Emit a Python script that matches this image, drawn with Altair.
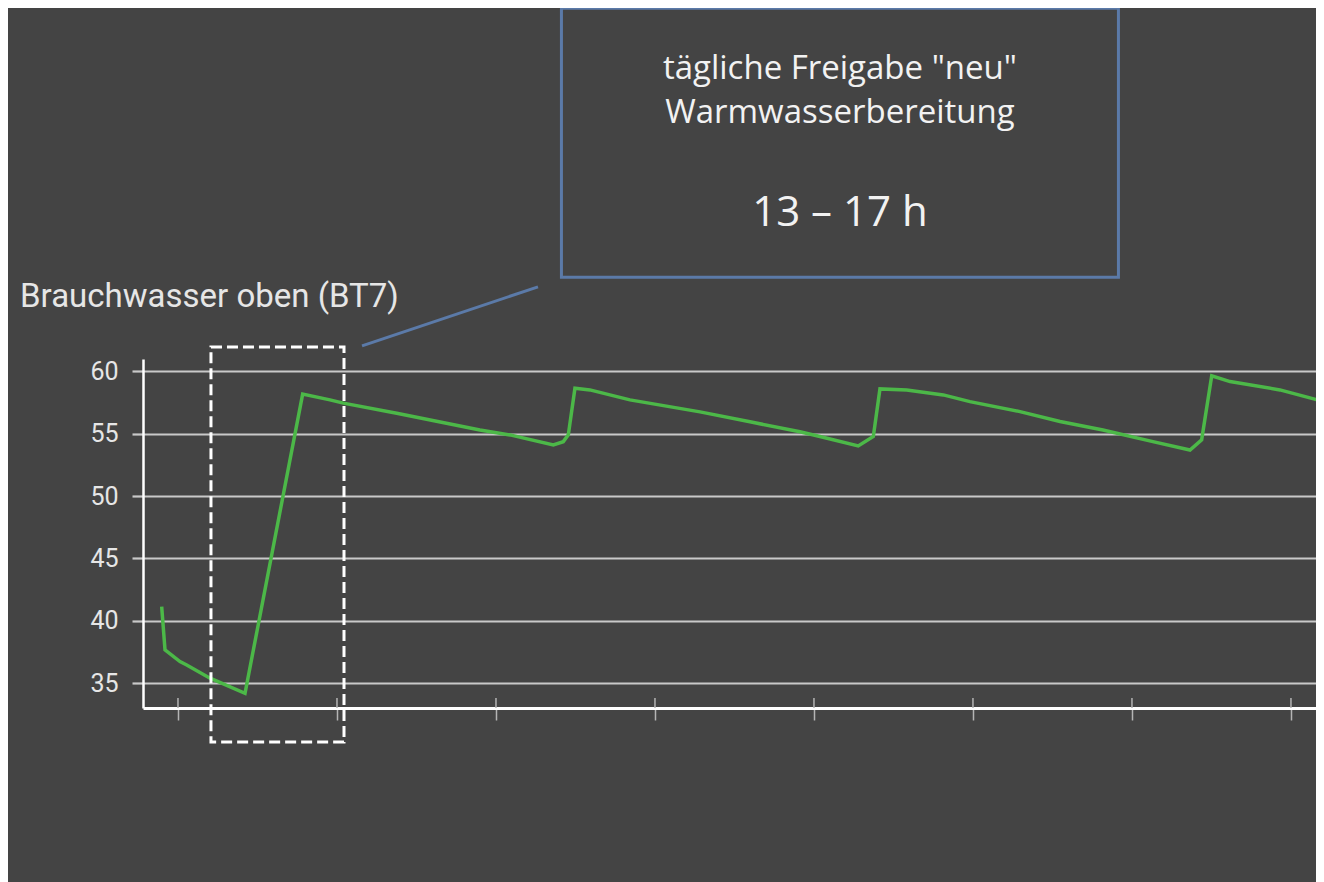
import altair as alt
import pandas as pd

# --- data: hours (x) and temperature in °C (y) ---
hours = [-1.23, -0.98, 0.15, 0.66, 2.42, 5.06, 9.41, 11.47, 12.48, 16.51,
         22.79, 25.06, 28.33, 29.08, 29.46, 29.96, 31.09, 34.11, 39.40, 43.17,
         46.94, 48.45, 51.34, 52.48, 52.98, 55.00, 57.76, 59.77, 63.55, 66.57,
         69.81, 73.58, 76.38, 77.26, 78.02, 79.40, 83.17, 86.49]
temps = [41.13, 37.66, 36.72, 36.45, 35.39, 34.18, 58.18, 57.72, 57.46, 56.65,
         55.31, 54.91, 54.11, 54.37, 54.91, 58.66, 58.52, 57.72, 56.76, 55.96,
         55.16, 54.78, 54.03, 54.78, 58.60, 58.52, 58.12, 57.58, 56.78, 55.98,
         55.31, 54.37, 53.70, 54.51, 59.65, 59.19, 58.52, 57.58]
x_ticks = [0, 12, 24, 36, 48, 60, 72, 84]
y_ticks = [35, 40, 45, 50, 55, 60]

chart_title = "Brauchwasser oben (BT7)"
note_lines = ['tägliche Freigabe "neu"', "Warmwasserbereitung"]
note_time = "13 – 17 h"

X_DOMAIN = [-2.64, 85.89]
Y_DOMAIN = [33, 61]

BG = "#444444"
GREEN = "#4cb848"
BLUE = "#5b7aa8"
GRID = "#c9c9c9"

df = pd.DataFrame({"h": hours, "t": temps})
ticks_df = pd.DataFrame({"h": x_ticks})

xs = alt.Scale(domain=X_DOMAIN, nice=False, zero=False)
ys = alt.Scale(domain=Y_DOMAIN, nice=False, zero=False)

line = alt.Chart(df).mark_line(color=GREEN, strokeWidth=3.5, clip=True).encode(
    x=alt.X("h:Q", scale=xs, title=None,
            axis=alt.Axis(values=x_ticks, labels=False, grid=False,
                          domainColor="white", domainWidth=3,
                          tickColor="#b4b4b4", tickWidth=1.5, tickSize=12)),
    y=alt.Y("t:Q", scale=ys, title=None,
            axis=alt.Axis(values=y_ticks, grid=True, gridColor=GRID, gridWidth=2.2,
                          domainColor="white", domainWidth=2.5,
                          tickColor=GRID, tickWidth=2.2, tickSize=11,
                          labelFont="Roboto", labelFontSize=25,
                          labelColor="#e6e6e6", labelPadding=14)),
)

# upper half of the x-axis ticks (they cross the axis line)
tick_up = alt.Chart(ticks_df).mark_rule(color="#b4b4b4", strokeWidth=1.5).encode(
    x=alt.X("h:Q", scale=xs, title=None),
    y=alt.datum(33, scale=ys),
    y2=alt.datum(33.8),
)

# dashed highlight frame
frame_df = pd.DataFrame({"x1": [2.49], "x2": [12.53], "y1": [61.97], "y2": [30.27]})
frame = alt.Chart(frame_df).mark_rect(
    fillOpacity=0, stroke="white", strokeWidth=3, strokeDash=[11, 5], clip=False
).encode(
    x=alt.X("x1:Q", scale=xs, title=None), x2="x2:Q",
    y=alt.Y("y1:Q", scale=ys, title=None), y2="y2:Q",
)

# callout connector
conn_df = pd.DataFrame({"x1": [13.89], "x2": [27.17], "y1": [62.05], "y2": [66.79]})
connector = alt.Chart(conn_df).mark_rule(color=BLUE, strokeWidth=3, clip=False).encode(
    x=alt.X("x1:Q", scale=xs, title=None), x2="x2:Q",
    y=alt.Y("y1:Q", scale=ys, title=None), y2="y2:Q",
)

# callout box
box_df = pd.DataFrame({"x1": [28.94], "x2": [70.98], "y1": [89.14], "y2": [67.55]})
box = alt.Chart(box_df).mark_rect(fill=BG, stroke=BLUE, strokeWidth=3, clip=False).encode(
    x=alt.X("x1:Q", scale=xs, title=None), x2="x2:Q",
    y=alt.Y("y1:Q", scale=ys, title=None), y2="y2:Q",
)

lines_df = pd.DataFrame({"txt": note_lines, "x": [49.96, 49.96], "y": [83.48, 79.95]})
note_text = alt.Chart(lines_df).mark_text(
    font="Open Sans", fontSize=33, color="#f2f2f2", align="center",
    baseline="alphabetic", clip=False
).encode(
    x=alt.X("x:Q", scale=xs, title=None),
    y=alt.Y("y:Q", scale=ys, title=None),
    text="txt:N",
)

time_df = pd.DataFrame({"txt": [note_time], "x": [49.96], "y": [71.68]})
time_text = alt.Chart(time_df).mark_text(
    font="Open Sans", fontSize=42, color="#f2f2f2", align="center",
    baseline="alphabetic", clip=False
).encode(
    x=alt.X("x:Q", scale=xs, title=None),
    y=alt.Y("y:Q", scale=ys, title=None),
    text="txt:N",
)

title_df = pd.DataFrame({"txt": [chart_title], "x": [-11.92], "y": [65.16]})
title_text = alt.Chart(title_df).mark_text(
    font="Roboto", fontSize=33, color="#e6e6e6", align="left",
    baseline="alphabetic", clip=False
).encode(
    x=alt.X("x:Q", scale=xs, title=None),
    y=alt.Y("y:Q", scale=ys, title=None),
    text="txt:N",
)

chart = alt.layer(
    line, tick_up, frame, connector, box, note_text, time_text, title_text
).properties(
    width=1173,
    height=349,
    autosize=alt.AutoSizeParams(type="none"),
    padding={"left": 135, "top": 351, "right": 0, "bottom": 174},
    background=BG,
).configure_view(strokeWidth=0)

chart.save("out.html", embed_options={"renderer": "svg", "actions": False})
